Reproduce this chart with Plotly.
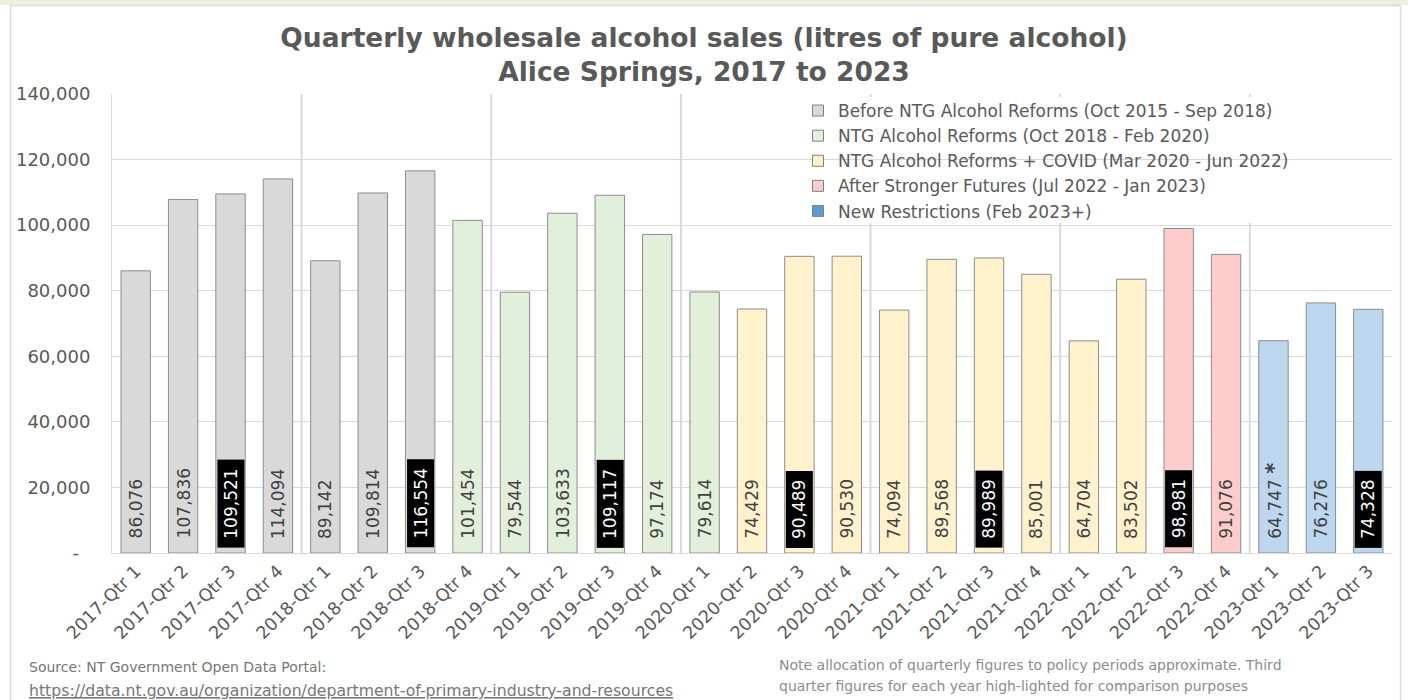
import plotly.graph_objects as go

quarters = [
    "2017-Qtr 1", "2017-Qtr 2", "2017-Qtr 3", "2017-Qtr 4",
    "2018-Qtr 1", "2018-Qtr 2", "2018-Qtr 3", "2018-Qtr 4",
    "2019-Qtr 1", "2019-Qtr 2", "2019-Qtr 3", "2019-Qtr 4",
    "2020-Qtr 1", "2020-Qtr 2", "2020-Qtr 3", "2020-Qtr 4",
    "2021-Qtr 1", "2021-Qtr 2", "2021-Qtr 3", "2021-Qtr 4",
    "2022-Qtr 1", "2022-Qtr 2", "2022-Qtr 3", "2022-Qtr 4",
    "2023-Qtr 1", "2023-Qtr 2", "2023-Qtr 3",
]
sales = [
    86076, 107836, 109521, 114094,
    89142, 109814, 116554, 101454,
    79544, 103633, 109117, 97174,
    79614, 74429, 90489, 90530,
    74094, 89568, 89989, 85001,
    64704, 83502, 98981, 91076,
    64747, 76276, 74328,
]
# period index for each quarter
period_of = [0]*7 + [1]*6 + [2]*9 + [3]*2 + [4]*3
period_names = [
    "Before NTG Alcohol Reforms (Oct 2015 - Sep 2018)",
    "NTG Alcohol Reforms (Oct 2018 - Feb 2020)",
    "NTG Alcohol Reforms + COVID (Mar 2020 - Jun 2022)",
    "After Stronger Futures (Jul 2022 - Jan 2023)",
    "New Restrictions (Feb 2023+)",
]
bar_colors = ["#d9d9d9", "#e2efda", "#fff2cc", "#ffcccc", "#bdd7ee"]
legend_colors = ["#d9d9d9", "#e2efda", "#fff2cc", "#ffcccc", "#5b9bd5"]
label_suffix = {"2023-Qtr 1": " <span style='font-size:21px'><b>*</b></span>"}

ytick_vals = [0, 20000, 40000, 60000, 80000, 100000, 120000, 140000]
ytick_text = ["-\u00a0\u00a0", "20,000", "40,000", "60,000", "80,000", "100,000", "120,000", "140,000"]

FONT = "DejaVu Sans"
GRAY = "#595959"

fig = go.Figure()
for p, name in enumerate(period_names):
    xs = [q for q, pp in zip(quarters, period_of) if pp == p]
    ys = [v for v, pp in zip(sales, period_of) if pp == p]
    fig.add_trace(go.Bar(
        x=xs, y=ys, name=name, showlegend=False,
        marker=dict(color=bar_colors[p], line=dict(color="#8c8c8c", width=1)),
        width=0.62, hoverinfo="x+y",
    ))
for p, name in enumerate(period_names):
    fig.add_trace(go.Scatter(
        x=[None], y=[None], mode="markers", name=name,
        marker=dict(symbol="square", size=11, color=legend_colors[p],
                    line=dict(color="#7f7f7f", width=1)),
    ))

annotations = []
NB = "\u00a0"
for q, v in zip(quarters, sales):
    hl = q.endswith("Qtr 3")
    annotations.append(dict(
        x=q, y=1500, xref="x", yref="y", xanchor="center", yanchor="bottom",
        text=NB + f"{v:,}" + label_suffix.get(q, "") + NB, textangle=-90, showarrow=False,
        font=dict(family=FONT, size=17, color="white" if hl else "#404040"),
        bgcolor="black" if hl else "rgba(0,0,0,0)", borderpad=3,
    ))

W, H = 1408, 700
L, R, T, B = 112, 16, 94, 147
pw, ph = W - L - R, H - T - B
def px(xp):
    return (xp - L) / pw
def py(yp):
    return (H - B - yp) / ph

footer = [
    (27, 667, "Source: NT Government Open Data Portal:", "#767676", 14),
    (27, 690, "<u>https://data.nt.gov.au/organization/department-of-primary-industry-and-resources</u>", "#767676", 15.7),
    (777, 665, "Note allocation of quarterly figures to policy periods approximate. Third", "#8c8c8c", 14),
    (777, 686, "quarter figures for each year high-lighted for comparison purposes", "#8c8c8c", 14),
]
for fx, fy, ftxt, fcol, fsz in footer:
    annotations.append(dict(
        x=px(fx), y=py(fy), xref="paper", yref="paper", xanchor="left", yanchor="middle",
        align="left", showarrow=False, text=ftxt,
        font=dict(family=FONT, size=fsz, color=fcol),
    ))

shapes = []
# outer chart border and top band
shapes.append(dict(type="rect", xref="paper", yref="paper", x0=px(0), x1=px(W), y0=py(0), y1=py(5),
                   fillcolor="#ebf1de", line=dict(width=0), layer="below"))
shapes.append(dict(type="rect", xref="paper", yref="paper", x0=px(10.5), x1=px(1400.5), y0=py(5.5), y1=py(710),
                   fillcolor="rgba(0,0,0,0)", line=dict(color="#d9d9d9", width=1.5), layer="below"))
# vertical gridlines every 4 quarters
for k in range(1, 7):
    shapes.append(dict(type="line", xref="x", yref="paper", x0=4*k - 0.5, x1=4*k - 0.5, y0=0, y1=1,
                       line=dict(color="#d9d9d9", width=2), layer="below"))
# white backing behind the legend (hides gridlines)
shapes.append(dict(type="rect", xref="paper", yref="paper", x0=px(816), x1=px(1312), y0=py(97), y1=py(223),
                   fillcolor="white", line=dict(width=0), layer="between"))

fig.update_layout(
    width=W, height=H,
    margin=dict(l=L, r=R, t=T, b=B),
    paper_bgcolor="white", plot_bgcolor="white",
    font=dict(family=FONT, color=GRAY),
    title=dict(
        text="<b>Quarterly wholesale alcohol sales (litres of pure alcohol)<br>Alice Springs, 2017 to 2023</b>",
        x=0.5, xref="container", xanchor="center", y=1 - 47/H, yanchor="top",
        font=dict(family=FONT, size=26.5, color=GRAY),
    ),
    bargap=0.38, barmode="group",
    xaxis=dict(
        type="category", categoryorder="array", categoryarray=quarters,
        tickangle=-45, tickfont=dict(family=FONT, size=17.5, color=GRAY),
        showgrid=False, showline=True, linecolor="#d9d9d9", linewidth=1,
        ticks="", range=[-0.5, len(quarters) - 0.5],
    ),
    yaxis=dict(
        range=[0, 140000], tickvals=ytick_vals, ticktext=ytick_text,
        tickfont=dict(family=FONT, size=18, color=GRAY),
        showgrid=True, gridcolor="#d9d9d9", gridwidth=1,
        showline=True, linecolor="#d9d9d9", linewidth=1,
        ticks="", ticklabelstandoff=17, zeroline=False,
    ),
    legend=dict(
        x=px(798), y=py(93), xanchor="left", yanchor="top",
        bgcolor="rgba(0,0,0,0)", borderwidth=0,
        font=dict(family=FONT, size=17, color=GRAY),
        itemwidth=30, tracegroupgap=0,
    ),
    annotations=annotations,
    shapes=shapes,
    showlegend=True,
)

fig.write_html("out.html", config={"displayModeBar": False},
               post_script="document.body.style.margin='0';")
